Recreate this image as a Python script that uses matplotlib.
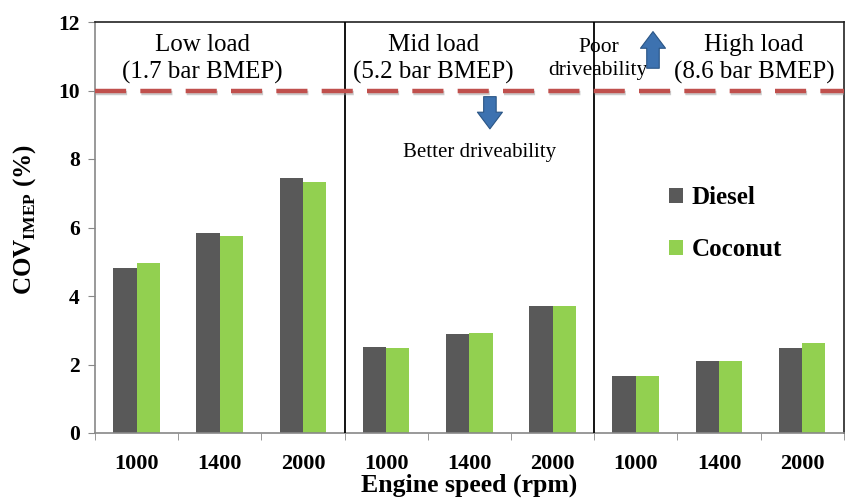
import matplotlib
matplotlib.use("Agg")
import matplotlib.pyplot as plt
import matplotlib.patheffects as pe
import numpy as np

speeds = ["1000", "1400", "2000", "1000", "1400", "2000", "1000", "1400", "2000"]
diesel = [4.82, 5.84, 7.44, 2.50, 2.90, 3.70, 1.67, 2.10, 2.48]
coconut = [4.96, 5.75, 7.33, 2.48, 2.92, 3.70, 1.67, 2.10, 2.63]
load_titles = ["Low load\n(1.7 bar BMEP)", "Mid load\n(5.2 bar BMEP)", "High load\n(8.6 bar BMEP)"]
threshold = 10

plt.rcParams["font.family"] = ["Liberation Serif", "DejaVu Serif"]
plt.rcParams["mathtext.fontset"] = "custom"
plt.rcParams["mathtext.rm"] = "Liberation Serif"
plt.rcParams["mathtext.bf"] = "Liberation Serif:bold"

fig = plt.figure(figsize=(8.48, 5.0), dpi=100)
ax = fig.add_axes([0.112, 0.134, 0.883, 0.822])

x = np.arange(len(speeds))
w = 0.28
b1 = ax.bar(x - w / 2, diesel, w, color="#595959", label="Diesel", zorder=2)
b2 = ax.bar(x + w / 2, coconut, w, color="#92d050", label="Coconut", zorder=2)

ax.set_xlim(-0.5, len(speeds) - 0.5)
ax.set_ylim(0, 12)
ax.set_yticks(np.arange(0, 13, 2))
ax.set_yticklabels([str(v) for v in range(0, 13, 2)], fontsize=15.5, fontweight="bold")
ax.set_xticks(x)
ax.set_xticklabels(speeds, fontsize=16, fontweight="bold")
ax.tick_params(axis="x", length=0, pad=15)
ax.set_xticks(np.arange(-0.5, len(speeds), 1), minor=True)
ax.tick_params(axis="x", which="minor", length=5, color="#888888")
ax.tick_params(axis="y", length=5, color="#888888", pad=6)

for s in ["top", "right"]:
    ax.spines[s].set_color("#222222")
    ax.spines[s].set_linewidth(1.2)
for s in ["left", "bottom"]:
    ax.spines[s].set_color("#888888")
    ax.spines[s].set_linewidth(1.2)

# separators between load groups
for xs in [2.5, 5.5]:
    ax.axvline(xs, color="black", lw=1.3, zorder=3)

# threshold line
ax.axhline(threshold, color="#c0504d", lw=3.2, dashes=(7, 3.2), zorder=4,
           path_effects=[pe.SimpleLineShadow(offset=(0.5, -1.5), shadow_color="#999999", alpha=0.5), pe.Normal()])

# load titles
title_x = [0.79, 3.57, 7.42]
for tx, t in zip(title_x, load_titles):
    ax.text(tx, 10.92, t, ha="center", va="center", fontsize=18, linespacing=1.3, zorder=5)

ax.text(5.55, 10.92, "Poor\ndriveability", ha="center", va="center", fontsize=15.5, linespacing=1.3, zorder=5)
ax.text(4.12, 8.2, "Better driveability", ha="center", va="center", fontsize=15, zorder=5)

arrow_style = "simple,head_width=0.9,head_length=0.6,tail_width=0.45"
ax.annotate("", xy=(6.207, 11.72), xytext=(6.207, 10.65),
            arrowprops=dict(arrowstyle=arrow_style, fc="#3d72b0", ec="#2a5585", lw=0.8,
                            shrinkA=0, shrinkB=0, mutation_scale=20), zorder=6)
ax.annotate("", xy=(4.247, 8.88), xytext=(4.247, 9.82),
            arrowprops=dict(arrowstyle=arrow_style, fc="#3d72b0", ec="#2a5585", lw=0.8,
                            shrinkA=0, shrinkB=0, mutation_scale=20), zorder=6)

ax.legend(handles=[b1, b2], loc="upper left", bbox_to_anchor=(0.737, 0.655), frameon=False,
          prop={"size": 18, "weight": "bold"}, handlelength=0.55, handleheight=0.55,
          handletextpad=0.35, labelspacing=1.15)

ax.set_xlabel("Engine speed (rpm)", fontsize=18.5, fontweight="bold", labelpad=0)
ax.set_ylabel(r"COV$_{\mathbf{IMEP}}$ (%)", fontsize=18, fontweight="bold")
ax.yaxis.set_label_coords(-0.076, 0.52)

fig.savefig("out.png", dpi=100)
